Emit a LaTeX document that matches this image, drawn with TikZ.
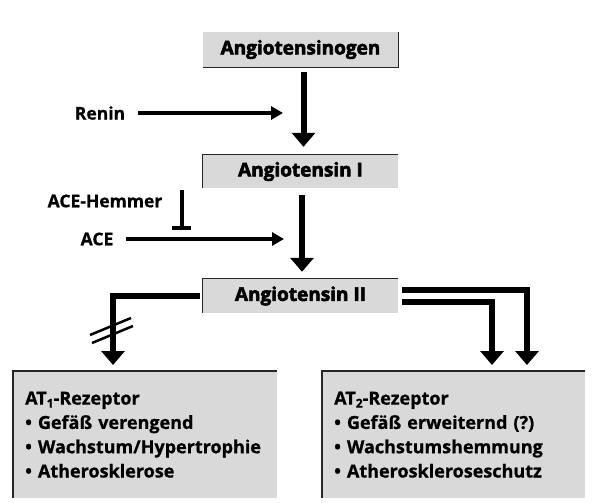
\documentclass[tikz,border=0pt]{standalone}
\usepackage{fontspec}
\setmainfont{Open Sans}[BoldFeatures={FakeBold=0.8}]
\newfontfamily\heavyfont{Open Sans}[BoldFeatures={FakeBold=3}]
\usetikzlibrary{arrows.meta}
\begin{document}
\begin{tikzpicture}[x=1pt,y=-1pt,
  box/.style={fill=black!15, inner sep=0pt, font=\heavyfont\bfseries\fontsize{19}{21}\selectfont},
  rbox/.style={fill=black!15, inner xsep=12pt, inner ysep=0pt, anchor=north west, align=left,
     text width=240pt, minimum width=264pt, minimum height=127pt,
     font=\bfseries\fontsize{18}{24.3}\selectfont},
  edge/.style={line width=1.3pt, black!85},
  bigarrow/.style={line width=6pt, -{Triangle[width=23pt,length=14pt]}},
  smallarrow/.style={line width=3.5pt, -{Triangle[width=13pt,length=12pt]}},
  blockline/.style={line width=3.5pt},
  slash/.style={line width=2.5pt},
  lab/.style={font=\bfseries\fontsize{17.5}{20}\selectfont, inner sep=0pt}]
\useasboundingbox (0,0) rectangle (608,503);

% main boxes
\node[box, minimum width=195pt, minimum height=35pt] (ag) at (300.5,49.5) {Angiotensinogen};
\draw[edge] (ag.south west) -- (ag.south east) -- (ag.north east);

\node[box, minimum width=195pt, minimum height=33pt] (a1) at (300.5,171.5) {Angiotensin I};
\draw[edge] (a1.south west) -- (a1.north west) -- (a1.north east);

\node[box, minimum width=195pt, minimum height=34pt] (a2) at (300.5,296) {Angiotensin II};
\draw[edge] (a2.south west) -- (a2.north west) -- (a2.north east);

% receptor boxes
\node[rbox] (at1) at (13,371) {AT\raisebox{-0.3ex}{\fontsize{12}{12}\selectfont 1}-Rezeptor\\
  • Gefäß verengend\\
  • Wachstum/Hypertrophie\\
  • Atherosklerose};
\draw[edge] (at1.south west) -- (at1.north west) -- (at1.north east);

\node[rbox, minimum width=263pt, text width=239pt] (at2) at (322,371) {AT\raisebox{-0.3ex}{\fontsize{12}{12}\selectfont 2}-Rezeptor\\
  • Gefäß erweiternd (?)\\
  • Wachstumshemmung\\
  • Atheroskleroseschutz};
\draw[edge] (at2.south west) -- (at2.north west) -- (at2.north east);

% side labels
\node[lab] (renin) at (100,113) {Renin};
\node[lab] (hemmer) at (105,201) {ACE-Hemmer};
\node[lab] (ace) at (97,239) {ACE};

\coordinate (rt) at (283,113);
\coordinate (at) at (284,239);
\coordinate (ih1) at (182,190);
\coordinate (ih2) at (182,228);
\coordinate (t1) at (113,365);
\coordinate (t2a) at (492,365);
\coordinate (t2b) at (527,365);

% connectors
\draw[smallarrow] ([xshift=13pt]renin.east) -- (rt);
\draw[smallarrow] ([xshift=12pt]ace.east) -- (at);
\draw[blockline] (ih1) -- (ih2);
\draw[blockline] ([xshift=-10pt]ih2) -- ([xshift=9pt]ih2);

\draw[bigarrow] ([xshift=3pt,yshift=-5pt]ag.south) -- ([xshift=3pt,yshift=8pt]a1.north);
\draw[bigarrow] ([xshift=1.5pt,yshift=-7pt]a1.south) -- ([xshift=1.5pt,yshift=7pt]a2.north);
\draw[bigarrow] ([xshift=-3pt]a2.west) -| (t1);
\draw[bigarrow] ([xshift=4pt,yshift=-6pt]a2.east) -| (t2a);
\draw[bigarrow] ([xshift=4pt,yshift=6pt]a2.east) -| (t2b);

% blocking marks
\draw[slash] (90,335) -- (131,318);
\draw[slash] (92,343) -- (133,326);
\end{tikzpicture}
\end{document}
